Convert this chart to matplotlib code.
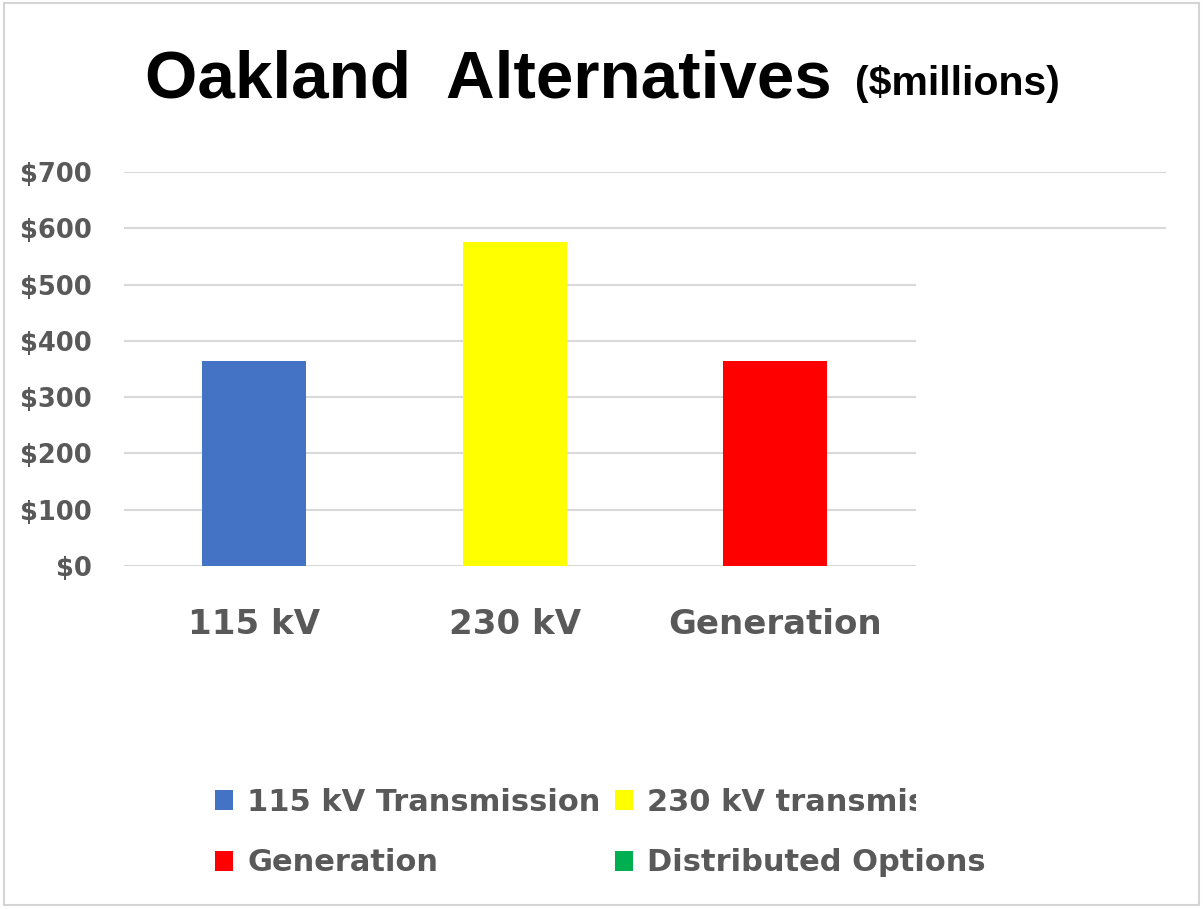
import matplotlib
matplotlib.use("Agg")
import matplotlib.pyplot as plt
from matplotlib.patches import Patch, Rectangle

# ---- data ----
categories = ["115 kV", "230 kV", "Generation", "Distributed"]
values = [365, 575, 365]            # 4th (Distributed Options) bar is hidden in the source
bar_colors = ["#4472C4", "#FFFF00", "#FF0000", "#00B050"]
legend_labels = ["115 kV Transmission", "230 kV transmission", "Generation", "Distributed Options"]
ytick_values = [0, 100, 200, 300, 400, 500, 600, 700]
ytick_labels = ["$0", "$100", "$200", "$300", "$400", "$500", "$600", "$700"]

TFONT = "Liberation Sans"
FONT = "DejaVu Sans"
GREY = "#595959"

W, H = 1203, 909
fig = plt.figure(figsize=(W / 100, H / 100), dpi=100)
fig.patch.set_facecolor("white")

ax = fig.add_axes([124 / W, (H - 566) / H, (1166 - 124) / W, (566 - 172) / H])
x = list(range(len(categories)))
bars = ax.bar(x[:len(values)], values, width=0.40, color=bar_colors[:len(values)], zorder=3)

ax.set_xlim(-0.5, len(categories) - 0.5)
ax.set_ylim(0, 700)
ax.set_yticks(ytick_values)
ax.set_yticklabels(ytick_labels, fontfamily=FONT, fontweight="bold", fontsize=18.5, color=GREY)
ax.set_xticks(x)
ax.set_xticklabels(categories, fontfamily=FONT, fontweight="bold", fontsize=24.5, color=GREY)
ax.tick_params(axis="y", length=0, pad=23)
ax.tick_params(axis="x", length=0, pad=30)
ax.grid(axis="y", color="#d9d9d9", linewidth=1.5, zorder=0)
for s in ax.spines.values():
    s.set_visible(False)

# title
fig.text(145 / W, 1 - 97 / H, "Oakland  Alternatives", fontfamily=TFONT, fontweight="bold",
         fontsize=48.5, color="black", ha="left", va="baseline")
fig.text(855 / W, 1 - 95 / H, "($millions)", fontfamily=TFONT, fontweight="bold",
         fontsize=29.5, color="black", ha="left", va="baseline")

# legend (column-first order)
handles = [Patch(facecolor=c, edgecolor="none") for c in bar_colors]
order = [0, 2, 1, 3]
leg = fig.legend([handles[i] for i in order], [legend_labels[i] for i in order],
                 ncol=2, frameon=False, loc="upper left", borderpad=0, borderaxespad=0,
                 bbox_to_anchor=(215 / W, 1 - 788 / H),
                 prop={"family": FONT, "weight": "bold", "size": 22},
                 handlelength=0.59, handleheight=0.65, handletextpad=0.46,
                 columnspacing=0.46, labelspacing=1.03)
for t in leg.get_texts():
    t.set_color(GREY)

# white patch covering part of the chart, as in the source image
fig.add_artist(Rectangle((916 / W, (H - 832) / H), (1168 - 916) / W, (832 - 250) / H,
                         transform=fig.transFigure, facecolor="white", edgecolor="none",
                         zorder=10))
# thin frame around the picture
fig.add_artist(Rectangle((4 / W, 4 / H), (W - 8) / W, (H - 7) / H, transform=fig.transFigure,
                         facecolor="none", edgecolor="#d4d4d4", linewidth=1.5, zorder=11))

fig.savefig("out.png", dpi=100, facecolor="white")
